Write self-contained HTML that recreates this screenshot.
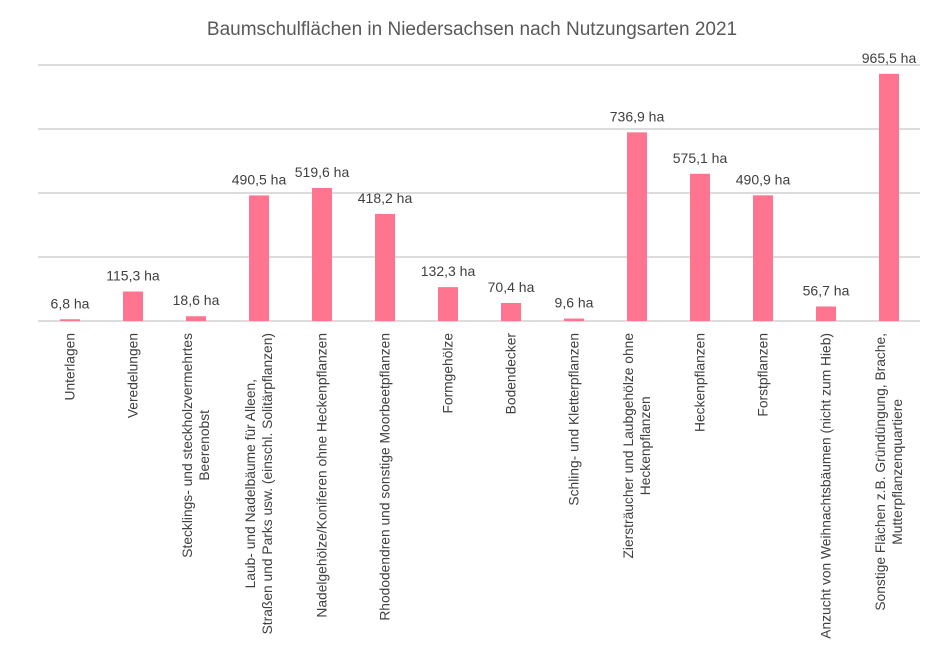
<!DOCTYPE html>
<html><head><meta charset="utf-8"><style>
body{margin:0;background:#fff;}
#c{position:relative;width:945px;height:667px;overflow:hidden;font-family:"Liberation Sans",sans-serif;color:#404040;}
.l{position:absolute;top:333px;transform-origin:0 0;transform:rotate(-90deg) translate(-100%,-50%);text-align:center;font-size:13.8px;line-height:17px;white-space:nowrap;}
</style></head><body><div id="c">
<svg width="945" height="667" style="position:absolute;left:0;top:0">
<text x="472" y="35" text-anchor="middle" font-size="19" fill="#595959" font-family="Liberation Sans, sans-serif">Baumschulflächen in Niedersachsen nach Nutzungsarten 2021</text>
<g stroke="#d0d0d0" stroke-width="1.5">
<line x1="38" x2="920" y1="65" y2="65"/><line x1="38" x2="920" y1="129" y2="129"/><line x1="38" x2="920" y1="193" y2="193"/><line x1="38" x2="920" y1="257" y2="257"/><line x1="38" x2="920" y1="321" y2="321"/>
</g>
<g fill="#ff758f" id="bars"></g>
<g font-size="14" fill="#404040" text-anchor="middle" font-family="Liberation Sans, sans-serif" id="vals"></g>
</svg>
<div id="labels"></div>
</div>
<script>
var d=[[6.8,"Unterlagen"],[115.3,"Veredelungen"],[18.6,"Stecklings- und steckholzvermehrtes<br>Beerenobst"],[490.5,"Laub- und Nadelbäume für Alleen,<br>Straßen und Parks usw. (einschl. Solitärpflanzen)"],[519.6,"Nadelgehölze/Koniferen ohne Heckenpflanzen"],[418.2,"Rhododendren und sonstige Moorbeetpflanzen"],[132.3,"Formgehölze"],[70.4,"Bodendecker"],[9.6,"Schling- und Kletterpflanzen"],[736.9,"Ziersträucher und Laubgehölze ohne<br>Heckenpflanzen"],[575.1,"Heckenpflanzen"],[490.9,"Forstpflanzen"],[56.7,"Anzucht von Weihnachtsbäumen (nicht zum Hieb)"],[965.5,"Sonstige Flächen z.B. Gründüngung, Brache,<br>Mutterpflanzenquartiere"]];
var b="",v="",l="";
d.forEach(function(e,i){var cx=70+63*i,h=e[0]*0.256,t=321-h;
b+='<rect x="'+(cx-10)+'" y="'+t+'" width="20" height="'+h+'"/>';
v+='<text x="'+cx+'" y="'+(t-11)+'">'+e[0].toFixed(1).replace(".",",")+' ha</text>';
l+='<div class="l" style="left:'+cx+'px">'+e[1]+'</div>';});
document.getElementById("bars").innerHTML=b;
document.getElementById("vals").innerHTML=v;
document.getElementById("labels").innerHTML=l;
</script>
</body></html>
